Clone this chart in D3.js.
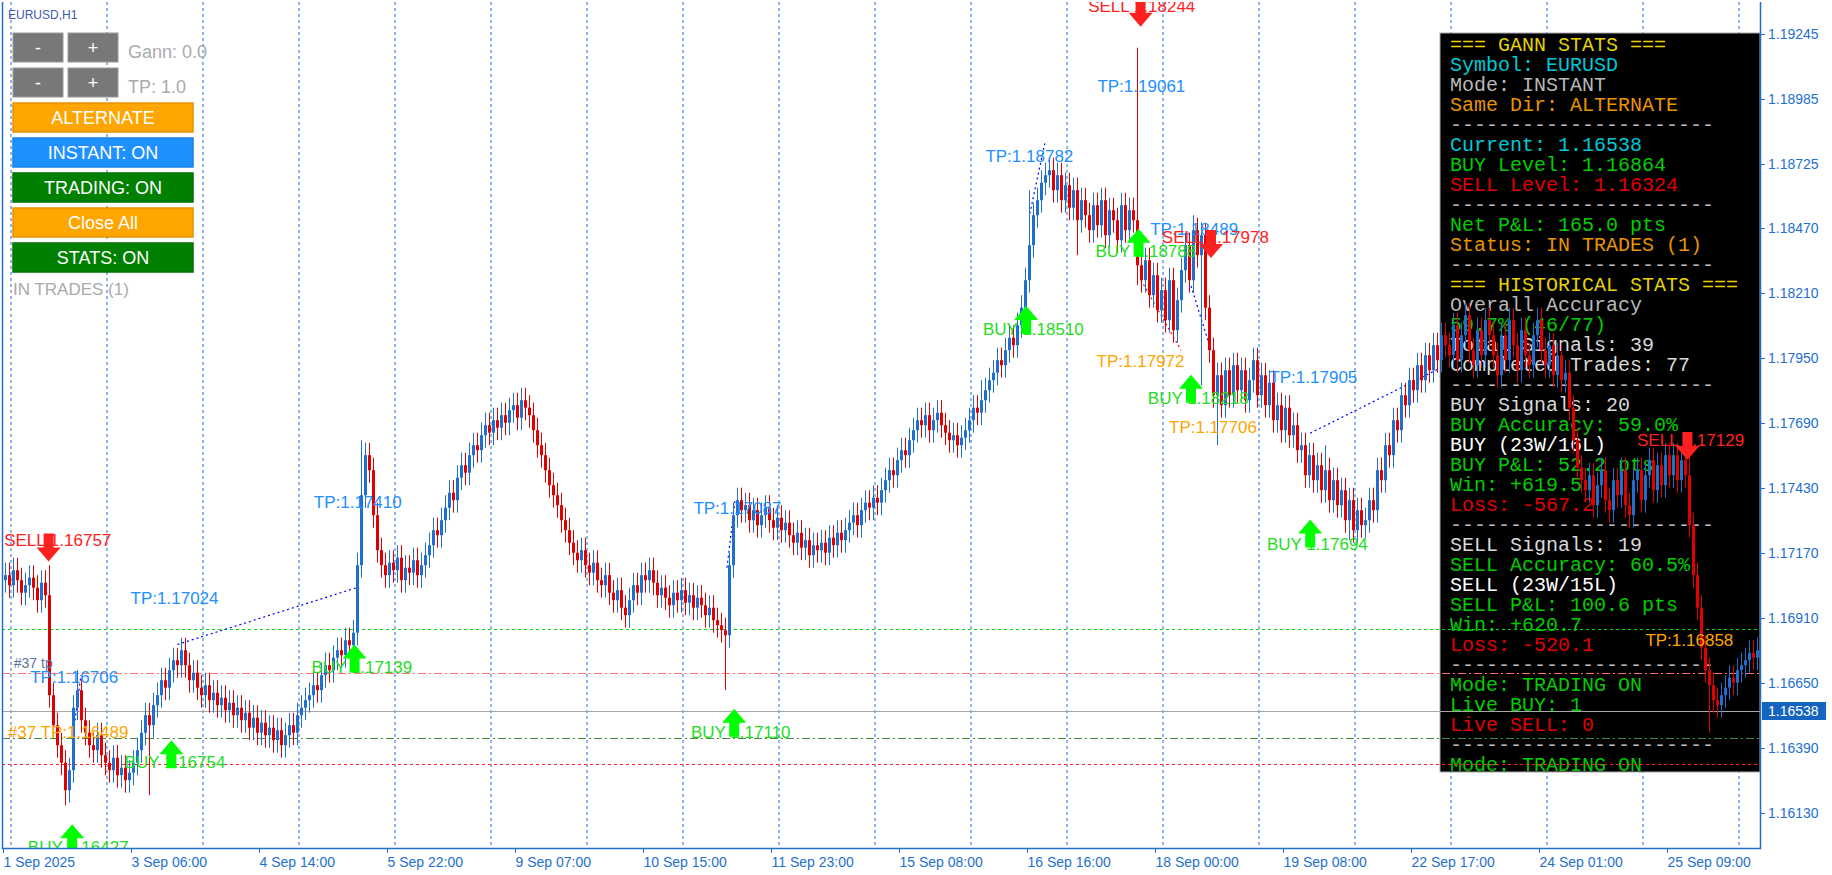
<!DOCTYPE html>
<html><head><meta charset="utf-8">
<script src="https://cdnjs.cloudflare.com/ajax/libs/d3/7.8.5/d3.min.js"></script>
<style>body{margin:0;background:#fff;}svg{display:block;}</style>
</head><body>
<svg id="c" width="1832" height="875"></svg>
<script>
// closes in pips above 1.16000
const closes=[108,104,110,106,101,104,107,103,98,105,100,
60,48,40,33,22,30,55,62,50,45,
40,38,44,36,33,30,35,28,31,26,29,33,
38,45,52,48,56,60,66,63,70,74,72,78,
72,66,69,63,60,64,58,61,56,59,54,57,52,55,50,53,47,51,45,49,44,47,42,46,40,44,
48,45,52,55,58,60,64,62,68,72,70,75,78,76,82,80,85,
112,140,156,150,132,118,112,
108,113,110,115,106,111,109,114,108,112,
116,120,126,124,130,135,141,138,147,152,149,156,160,158,164,168,165,170,167,172,169,174,176,171,178,175,
172,166,160,156,150,144,140,136,130,126,121,117,114,118,112,109,113,106,104,108,101,98,102,95,92,
98,104,101,108,106,110,105,100,103,99,96,101,98,102,97,100,95,99,96,92,95,90,88,86,84,
112,132,138,134,
136,130,134,128,132,135,130,127,131,126,129,124,121,125,119,122,116,120,118,121,117,123,120,125,122,126,
129,132,128,134,137,135,139,137,142,146,150,148,154,158,156,162,166,170,168,172,166,170,173,
168,165,162,164,160,163,166,170,175,173,178,182,
186,189,194,192,198,203,200,208,215,226,240,252,258,265,268,
270,262,268,258,264,255,262,250,258,252,246,256,248,258,244,254,250,242,256,246,254,250,
232,226,
234,220,228,214,222,210,226,206,218,230,
240,226,246,236,244,215,198,
180,188,176,190,180,192,182,190,178,186,194,180,188,176,185,170,176,166,175,
164,168,158,160,148,156,146,152,142,150,138,146,136,142,130,138,126,134,128,130,
138,134,150,146,160,156,170,166,180,176,186,182,192,186,196,190,200,194,204,200,
196,208,194,204,212,198,192,206,196,210,204,196,188,204,194,210,200,190,206,196,192,204,210,198,192,200,188,196,186,189,
175,162,151,146,142,
148,136,144,150,138,134,146,140,150,136,132,146,150,138,148,154,142,152,144,156,148,156,146,154,148,
128,108,95,79,70,64,58,56,60,63,67,65,70,72,74,77,75,78,79];
const firstOpen=106;
const wickPips=5;
const spikeHigh=[[11,112],[18,70],[89,162],[180,62],[283,319],[256,262],[300,248],[421,156],[244,186],[297,252],[330,160]];
const spikeLow=[[15,16],[36,20],[180,62],[283,224],[299,184],[336,122],[426,45],[268,236],[303,160]];
const priceTicks=[1.19245,1.18985,1.18725,1.18470,1.18210,1.17950,1.17690,1.17430,1.17170,1.16910,1.16650,1.16390,1.16130];
const timeLabels=["1 Sep 2025","3 Sep 06:00","4 Sep 14:00","5 Sep 22:00","9 Sep 07:00","10 Sep 15:00","11 Sep 23:00","15 Sep 08:00","16 Sep 16:00","18 Sep 00:00","19 Sep 08:00","22 Sep 17:00","24 Sep 01:00","25 Sep 09:00"];
const hLines=[[1.16864,"#00e000","3,3"],[1.16690,"#ff7070","8,3,2,3"],[1.16538,"#a8a8a8",null],[1.16427,"#4a8a4a","8,3,2,3"],[1.16324,"#ff2020","3,3"]];
const labels=[["SELL 1.16757","#ff2020",-0.2,1.17219],["TP:1.16706","#1E90FF",6.3,1.16672],["#37 tp","#6070a0",2.2,1.16728],["#37 TP:1.16489","#FFA500",0.7,1.16453],
["BUY 1.16427","#22dd22",5.7,1.15991],["TP:1.17024","#1E90FF",31.4,1.16990],["BUY 1.16754","#22dd22",29.9,1.16331],["BUY 1.17139","#22dd22",76.6,1.16714],
["TP:1.17410","#1E90FF",77.2,1.17373],["TP:1.17087","#1E90FF",172.1,1.17350],["BUY 1.17110","#22dd22",171.5,1.16453],["TP:1.18782","#1E90FF",245.1,1.18755],
["BUY 1.18510","#22dd22",244.5,1.18064],["SELL 1.18244","#ff2020",270.8,1.19358],["TP:1.19061","#1E90FF",273.1,1.19035],["BUY 1.18788","#22dd22",272.6,1.18377],
["TP:1.18489","#1E90FF",286.3,1.18466],["SELL 1.17978","#ff2020",289.2,1.18433],["TP:1.17972","#FFA500",272.9,1.17938],["BUY 1.18218","#22dd22",285.7,1.17789],
["TP:1.17706","#FFA500",291,1.17672],["TP:1.17905","#1E90FF",316.1,1.17873],["BUY 1.17694","#22dd22",315.5,1.17205],["SELL 1.17129","#ff2020",408,1.17620],
["TP:1.16858","#FFA500",410.1,1.16822]];
const arrows=[["sell",10.9,1.17191],["buy",16.8,1.16028],["buy",41.6,1.16364],["buy",87.4,1.16747],["buy",182.3,1.16490],["buy",255.3,1.18101],
["sell",283.9,1.19330],["buy",283.4,1.18410],["sell",301.5,1.18405],["buy",296.5,1.17826],["buy",326.3,1.17247],["sell",420.6,1.17597]];
const trendLines=[[43.1,1.16803,88.3,1.17032,"#0000ff"],[256.2,1.18526,260,1.18811,"#0000ff"],[326.3,1.17648,358.4,1.17905,"#0000ff"],
[296.5,1.18237,301.5,1.17980,"#0000ff"],[17,1.16440,19,1.16680,"#0000ff"],[180.5,1.17110,182.5,1.17380,"#0000ff"],[284,1.18260,294,1.17980,"#ff0000"]];
const panelLines=[["=== GANN STATS ===","#e6d200"],["Symbol: EURUSD","#00c8d8"],["Mode: INSTANT","#b8b8b8"],["Same Dir: ALTERNATE","#e89400"],["----------------------","#b8b8b8"],
["Current: 1.16538","#00c8d8"],["BUY Level: 1.16864","#00cc00"],["SELL Level: 1.16324","#e00000"],["----------------------","#b8b8b8"],
["Net P&L: 165.0 pts","#00cc00"],["Status: IN TRADES (1)","#e89400"],["----------------------","#b8b8b8"],
["=== HISTORICAL STATS ===","#e6d200"],["Overall Accuracy","#b8b8b8"],["59.7% (46/77)","#00cc00"],["Total Signals: 39","#d8d8d8"],["Completed Trades: 77","#d8d8d8"],["----------------------","#b8b8b8"],
["BUY Signals: 20","#d8d8d8"],["BUY Accuracy: 59.0%","#00cc00"],["BUY (23W/16L)","#ffffff"],["BUY P&L: 52.2 pts","#00cc00"],["Win: +619.5","#00cc00"],["Loss: -567.2","#e00000"],["----------------------","#b8b8b8"],
["SELL Signals: 19","#d8d8d8"],["SELL Accuracy: 60.5%","#00cc00"],["SELL (23W/15L)","#ffffff"],["SELL P&L: 100.6 pts","#00cc00"],["Win: +620.7","#00cc00"],["Loss: -520.1","#e00000"],["----------------------","#b8b8b8"],
["Mode: TRADING ON","#00cc00"],["Live BUY: 1","#00cc00"],["Live SELL: 0","#e00000"],["----------------------","#b8b8b8"],["Mode: TRADING ON","#00cc00"]];
const buttons=[["ALTERNATE","#FFA500"],["INSTANT: ON","#1E90FF"],["TRADING: ON","#008000"],["Close All","#FFA500"],["STATS: ON","#008000"]];

const svg=d3.select("#c");
const L=2,R=1760,T=2,B=848;
const x=d3.scaleLinear().domain([0,1]).range([5,9]); // bar index -> px
const y=d3.scaleLinear().domain([1.1613,1.17170]).range([812.7,552.7]);
const blue="#1E6FD0";
const P=v=>1.16+v/10000;
const n=closes.length;
const bars=closes.map((c,i)=>{const o=i?closes[i-1]:firstOpen;return{i,o,c,h:Math.max(o,c)+wickPips,l:Math.min(o,c)-wickPips};});
spikeHigh.forEach(([i,v])=>{bars[i].h=Math.max(bars[i].h,v);});
spikeLow.forEach(([i,v])=>{bars[i].l=Math.min(bars[i].l,v);});

svg.append("clipPath").attr("id","pc").append("rect").attr("x",L).attr("y",T).attr("width",R-L).attr("height",B-T);
const g=svg.append("g").attr("clip-path","url(#pc)");
for(let b=1.5;b<n+30;b+=24){g.append("line").attr("x1",x(b)).attr("x2",x(b)).attr("y1",T).attr("y2",B).attr("stroke",blue).attr("stroke-dasharray","3,3").attr("stroke-width",1);}
g.append("rect").attr("x",1440).attr("y",33).attr("width",R-1440).attr("height",772-33).attr("fill","#000").attr("stroke","#aaa").attr("stroke-width",1);
panelLines.forEach((d,k)=>g.append("text").attr("x",1450).attr("y",43.5+k*20).attr("dy","0.35em").attr("fill",d[1]).attr("font-family","Liberation Mono, monospace").attr("font-size",20).text(d[0]));
hLines.forEach(d=>g.append("line").attr("x1",L).attr("x2",R).attr("y1",Math.round(y(d[0]))+.5).attr("y2",Math.round(y(d[0]))+.5).attr("stroke",d[1]).attr("stroke-dasharray",d[2]).attr("stroke-width",1.2));
trendLines.forEach(d=>g.append("line").attr("x1",x(d[0])).attr("y1",y(d[1])).attr("x2",x(d[2])).attr("y2",y(d[3])).attr("stroke",d[4]).attr("stroke-dasharray","2,3").attr("stroke-width",1.2));
const cg=g.append("g");
bars.forEach(d=>{const col=d.c>=d.o?blue:"#e00000";const cx=Math.round(x(d.i))+.5;
cg.append("line").attr("x1",cx).attr("x2",cx).attr("y1",y(P(d.h))).attr("y2",y(P(d.l))).attr("stroke",col).attr("stroke-width",1);
const y1=y(P(Math.max(d.o,d.c))),y2=y(P(Math.min(d.o,d.c)));
cg.append("rect").attr("x",cx-1.5).attr("y",y1).attr("width",3).attr("height",Math.max(1,y2-y1)).attr("fill",col);});
labels.forEach(d=>g.append("text").attr("x",x(d[2])).attr("y",y(d[3])).attr("dy","0.35em").attr("fill",d[1]).attr("font-family","Liberation Sans, Arial, sans-serif").attr("font-size",d[0].startsWith("#37 tp")?14:17).text(d[0]));
const up="M0,-14 L12,0 L5,0 L5,14 L-5,14 L-5,0 L-12,0 Z";
arrows.forEach(d=>g.append("path").attr("d",up).attr("transform",`translate(${x(d[1])},${y(d[2])})${d[0]==="sell"?" rotate(180)":""}`).attr("fill",d[0]==="buy"?"#00ff00":"#ff2020"));
svg.append("path").attr("d",`M${L+.5},${T} V${B+.5} H${R+.5} V${T}`).attr("fill","none").attr("stroke",blue).attr("stroke-width",1.5);
priceTicks.forEach(p=>{const yy=Math.round(y(p))+.5;
svg.append("line").attr("x1",R).attr("x2",R+5).attr("y1",yy).attr("y2",yy).attr("stroke",blue);
svg.append("text").attr("x",R+8).attr("y",yy).attr("dy","0.35em").attr("fill",blue).attr("font-family","Liberation Sans, Arial, sans-serif").attr("font-size",14).text(p.toFixed(5));});
const cy=Math.round(y(1.16538));
svg.append("rect").attr("x",R+2).attr("y",cy-9).attr("width",64).attr("height",18).attr("fill","#1565C0");
svg.append("text").attr("x",R+8).attr("y",cy).attr("dy","0.35em").attr("fill","#fff").attr("font-family","Liberation Sans, Arial, sans-serif").attr("font-size",14).text("1.16538");
timeLabels.forEach((t,k)=>{const xx=Math.round(x(k*32))-2+.5;
svg.append("line").attr("x1",xx).attr("x2",xx).attr("y1",B).attr("y2",B+5).attr("stroke",blue);
svg.append("text").attr("x",xx).attr("y",867).attr("fill",blue).attr("font-family","Liberation Sans, Arial, sans-serif").attr("font-size",14).text(t);});
svg.append("text").attr("x",8).attr("y",15).attr("dy","0.35em").attr("fill","#3a5ab0").attr("font-family","Liberation Sans, Arial, sans-serif").attr("font-size",12).text("EURUSD,H1");
[[33,"Gann: 0.0"],[68,"TP: 1.0"]].forEach(([yy,t])=>{
[[13,"-"],[68,"+"]].forEach(([xx,s])=>{svg.append("rect").attr("x",xx).attr("y",yy).attr("width",50).attr("height",29).attr("fill","#787878").attr("stroke","#999").attr("stroke-width",1);
svg.append("text").attr("x",xx+25).attr("y",yy+15).attr("dy","0.35em").attr("text-anchor","middle").attr("fill","#fff").attr("font-family","Liberation Sans, Arial, sans-serif").attr("font-size",18).text(s);});
svg.append("text").attr("x",128).attr("y",yy+19).attr("dy","0.35em").attr("fill","#aaa").attr("font-family","Liberation Sans, Arial, sans-serif").attr("font-size",18).text(t);});
buttons.forEach((d,k)=>{const yy=103+k*35;
svg.append("rect").attr("x",13).attr("y",yy).attr("width",180).attr("height",29).attr("fill",d[1]).attr("stroke",d3.color(d[1]).darker(0.3)).attr("stroke-width",1.5);
svg.append("text").attr("x",103).attr("y",yy+15).attr("dy","0.35em").attr("text-anchor","middle").attr("fill","#fff").attr("font-family","Liberation Sans, Arial, sans-serif").attr("font-size",18).text(d[0]);});
svg.append("text").attr("x",13).attr("y",289).attr("dy","0.35em").attr("fill","#aaa").attr("font-family","Liberation Sans, Arial, sans-serif").attr("font-size",17).text("IN TRADES (1)");
</script></body></html>
